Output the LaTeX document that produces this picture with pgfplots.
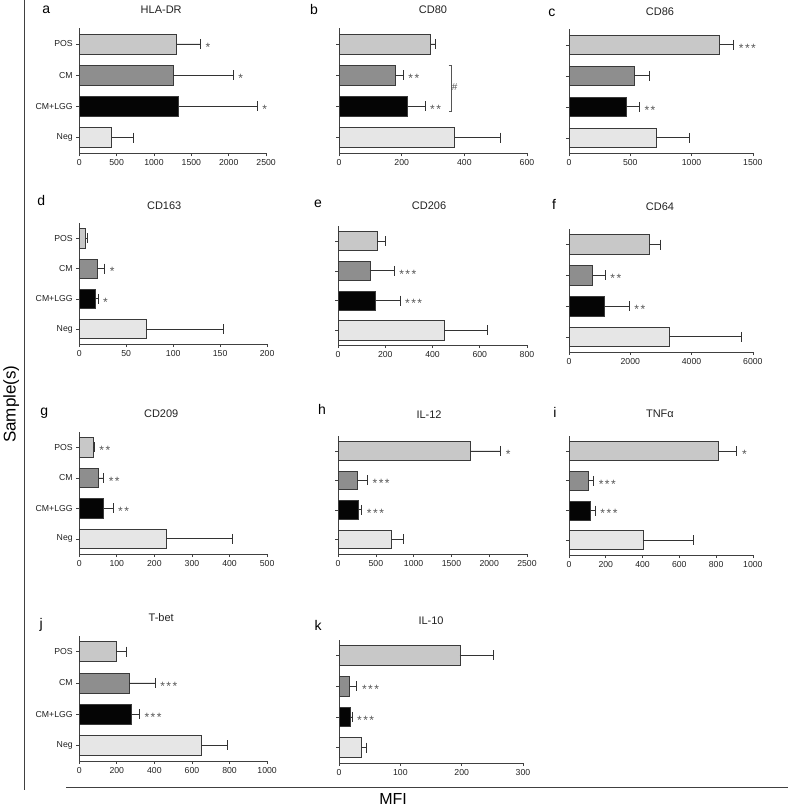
\documentclass[border=0pt]{standalone}
\usepackage{pgfplots}
\pgfplotsset{compat=1.18}
\usepackage{fontspec}
\setmainfont{Liberation Sans}
\definecolor{cpos}{HTML}{C8C8C8}
\definecolor{ccm}{HTML}{8E8E8E}
\definecolor{clgg}{HTML}{050505}
\definecolor{cneg}{HTML}{E6E6E6}
\definecolor{barc}{HTML}{3A3A3A}
\definecolor{axc}{HTML}{404040}
\definecolor{errc}{HTML}{333333}
\definecolor{starc}{HTML}{555555}
\definecolor{txtc}{HTML}{222222}
\pgfplotsset{
  panel/.style={
    scale only axis, xbar, bar shift=0pt, bar width=0.64,
    ymin=-0.5, ymax=3.5, xmin=0, enlarge x limits=false, enlarge y limits=false,
    axis lines*=left, ytick={0,1,2,3}, yticklabels={},
    tick align=outside, major tick length=3pt,
    axis line style={line width=0.8pt, color=axc},
    tick style={line width=0.6pt, color=axc},
    clip=false,
    error bars/x dir=plus, error bars/x explicit,
    error bars/error mark=|,
    error bars/error bar style={line width=0.8pt, color=errc},
    error bars/error mark options={mark size=5pt, line width=0.8pt, color=errc},
    tick label style={font=\fontsize{8.7}{10}\selectfont, text=txtc},
    scaled x ticks=false,
    /pgf/number format/assume math mode=true,
    /pgf/number format/1000 sep={},
    every axis plot/.append style={draw=barc, line width=0.7pt},
  },
  leftlab/.style={yticklabels={Neg,CM+LGG,CM,POS}},
  pos/.style={fill=cpos},
  cm/.style={fill=ccm},
  lgg/.style={fill=clgg},
  neg/.style={fill=cneg},
}
\tikzset{
  st/.style={anchor=west, inner sep=0pt, xshift=5pt, yshift=-3.2pt, text=starc, font=\fontsize{12}{12}\selectfont},
  ttl/.style={font=\fontsize{11}{12}\selectfont, text=txtc},
  let/.style={font=\fontsize{14}{15}\selectfont, text=black},
}
\newcommand{\sone}{*}
\newcommand{\stwo}{*\kern1.5pt*}
\newcommand{\sthree}{*\kern1.5pt*\kern1.5pt*}
\begin{document}
\begin{tikzpicture}[x=1pt,y=1pt]
\path (0,0) rectangle (787,808);
% frame lines and global labels
\draw[line width=0.8pt, color=axc] (23,808) -- (23,18);
\draw[line width=0.8pt, color=axc] (65,21) -- (787,21);
\node[rotate=90, font=\fontsize{17}{19}\selectfont] at (10,404) {Sample(s)};
\node[font=\fontsize{16}{17}\selectfont] at (392,9) {MFI};

% ---------- a ----------
\begin{axis}[panel, leftlab, at={(78pt,655pt)}, anchor=south west, width=187pt, height=125pt,
  xmax=2500, xtick={0,500,1000,1500,2000,2500}]
\addplot[pos] coordinates {(1305,3) +- (316,0)};
\addplot[cm]  coordinates {(1261,2) +- (799,0)};
\addplot[lgg] coordinates {(1332,1) +- (1048,0)};
\addplot[neg] coordinates {(435,0) +- (284,0)};
\node[st] at (axis cs:1621,3) {\sone};
\node[st] at (axis cs:2060,2) {\sone};
\node[st] at (axis cs:2380,1) {\sone};
\end{axis}
\node[let] at (45,799) {a};
\node[ttl] at (160,799) {HLA-DR};

% ---------- b ----------
\begin{axis}[panel, at={(338pt,655pt)}, anchor=south west, width=188pt, height=125pt,
  xmax=600, xtick={0,200,400,600}]
\addplot[pos] coordinates {(292,3) +- (17,0)};
\addplot[cm]  coordinates {(180,2) +- (25,0)};
\addplot[lgg] coordinates {(219,1) +- (55,0)};
\addplot[neg] coordinates {(369,0) +- (146,0)};
\node[st] at (axis cs:205,2) {\stwo};
\node[st] at (axis cs:274,1) {\stwo};
\draw[line width=0.6pt, color=starc] (axis cs:350,2.32) -- (axis cs:358,2.32) -- (axis cs:358,0.84) -- (axis cs:350,0.84);
\node[text=starc, font=\fontsize{10}{11}\selectfont] at (axis cs:369,1.62) {\#};
\end{axis}
\node[let] at (313,799) {b};
\node[ttl] at (432,799) {CD80};

% ---------- c ----------
\begin{axis}[panel, at={(568pt,655pt)}, anchor=south west, width=184pt, height=124pt,
  xmax=1500, xtick={0,500,1000,1500}]
\addplot[pos] coordinates {(1229,3) +- (114,0)};
\addplot[cm]  coordinates {(533,2) +- (122,0)};
\addplot[lgg] coordinates {(468,1) +- (106,0)};
\addplot[neg] coordinates {(712,0) +- (268,0)};
\node[st] at (axis cs:1343,3) {\sthree};
\node[st] at (axis cs:574,1) {\stwo};
\end{axis}
\node[let] at (551,796) {c};
\node[ttl] at (659,797) {CD86};

% ---------- d ----------
\begin{axis}[panel, leftlab, at={(78pt,464pt)}, anchor=south west, width=188pt, height=121pt,
  xmax=200, xtick={0,50,100,150,200}]
\addplot[pos] coordinates {(7,3) +- (2,0)};
\addplot[cm]  coordinates {(19,2) +- (8,0)};
\addplot[lgg] coordinates {(17,1) +- (3,0)};
\addplot[neg] coordinates {(71,0) +- (82,0)};
\node[st] at (axis cs:27,2) {\sone};
\node[st] at (axis cs:20,1) {\sone};
\end{axis}
\node[let] at (40,608) {d};
\node[ttl] at (163,603) {CD163};

% ---------- e ----------
\begin{axis}[panel, at={(337pt,463pt)}, anchor=south west, width=189pt, height=119pt,
  xmax=800, xtick={0,200,400,600,800}]
\addplot[pos] coordinates {(166,3) +- (34,0)};
\addplot[cm]  coordinates {(135,2) +- (102,0)};
\addplot[lgg] coordinates {(158,1) +- (104,0)};
\addplot[neg] coordinates {(450,0) +- (183,0)};
\node[st] at (axis cs:237,2) {\sthree};
\node[st] at (axis cs:262,1) {\sthree};
\end{axis}
\node[let] at (317,604) {e};
\node[ttl] at (428,603) {CD206};

% ---------- f ----------
\begin{axis}[panel, at={(568pt,456pt)}, anchor=south west, width=184pt, height=123pt,
  xmax=6000, xtick={0,2000,4000,6000}]
\addplot[pos] coordinates {(2620,3) +- (347,0)};
\addplot[cm]  coordinates {(772,2) +- (413,0)};
\addplot[lgg] coordinates {(1141,1) +- (826,0)};
\addplot[neg] coordinates {(3272,0) +- (2358,0)};
\node[st] at (axis cs:1185,2) {\stwo};
\node[st] at (axis cs:1967,1) {\stwo};
\end{axis}
\node[let] at (553,604) {f};
\node[ttl] at (659,602) {CD64};

% ---------- g ----------
\begin{axis}[panel, leftlab, at={(78pt,254pt)}, anchor=south west, width=188pt, height=122pt,
  xmax=500, xtick={0,100,200,300,400,500}]
\addplot[pos] coordinates {(37,3) +- (3,0)};
\addplot[cm]  coordinates {(52,2) +- (13,0)};
\addplot[lgg] coordinates {(65,1) +- (25,0)};
\addplot[neg] coordinates {(233,0) +- (175,0)};
\node[st] at (axis cs:40,3) {\stwo};
\node[st] at (axis cs:65,2) {\stwo};
\node[st] at (axis cs:90,1) {\stwo};
\end{axis}
\node[let] at (43,395) {g};
\node[ttl] at (160,394) {CD209};

% ---------- h ----------
\begin{axis}[panel, at={(337pt,254pt)}, anchor=south west, width=189pt, height=118pt,
  xmax=2500, xtick={0,500,1000,1500,2000,2500}]
\addplot[pos] coordinates {(1750,3) +- (402,0)};
\addplot[cm]  coordinates {(256,2) +- (132,0)};
\addplot[lgg] coordinates {(269,1) +- (44,0)};
\addplot[neg] coordinates {(710,0) +- (159,0)};
\node[st] at (axis cs:2152,3) {\sone};
\node[st] at (axis cs:388,2) {\sthree};
\node[st] at (axis cs:313,1) {\sthree};
\end{axis}
\node[let] at (321,399) {h};
\node[ttl] at (428,394) {IL-12};

% ---------- i ----------
\begin{axis}[panel, at={(568pt,253pt)}, anchor=south west, width=184pt, height=119pt,
  xmax=1000, xtick={0,200,400,600,800,1000}]
\addplot[pos] coordinates {(812,3) +- (101,0)};
\addplot[cm]  coordinates {(105,2) +- (29,0)};
\addplot[lgg] coordinates {(114,1) +- (29,0)};
\addplot[neg] coordinates {(402,0) +- (276,0)};
\node[st] at (axis cs:913,3) {\sone};
\node[st] at (axis cs:134,2) {\sthree};
\node[st] at (axis cs:143,1) {\sthree};
\end{axis}
\node[let] at (554,396) {i};
\node[ttl] at (659,394) {TNFα};

% ---------- j ----------
\begin{axis}[panel, leftlab, at={(78pt,47pt)}, anchor=south west, width=188pt, height=125pt,
  xmax=1000, xtick={0,200,400,600,800,1000}]
\addplot[pos] coordinates {(198,3) +- (55,0)};
\addplot[cm]  coordinates {(265,2) +- (139,0)};
\addplot[lgg] coordinates {(276,1) +- (44,0)};
\addplot[neg] coordinates {(651,0) +- (137,0)};
\node[st] at (axis cs:404,2) {\sthree};
\node[st] at (axis cs:320,1) {\sthree};
\end{axis}
\node[let] at (40,183) {j};
\node[ttl] at (160,191) {T-bet};

% ---------- k ----------
\begin{axis}[panel, at={(338pt,45pt)}, anchor=south west, width=184pt, height=123pt,
  xmax=300, xtick={0,100,200,300}]
\addplot[pos] coordinates {(197,3) +- (54,0)};
\addplot[cm]  coordinates {(17,2) +- (12,0)};
\addplot[lgg] coordinates {(18,1) +- (3,0)};
\addplot[neg] coordinates {(36,0) +- (9,0)};
\node[st] at (axis cs:29,2) {\sthree};
\node[st] at (axis cs:21,1) {\sthree};
\end{axis}
\node[let] at (317,183) {k};
\node[ttl] at (430,187) {IL-10};
\end{tikzpicture}
\end{document}
